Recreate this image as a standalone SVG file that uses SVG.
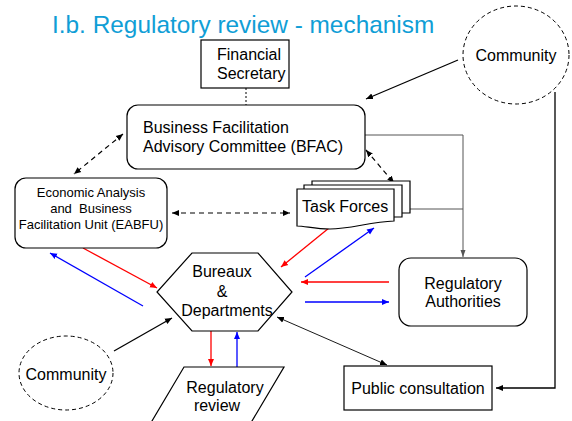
<svg xmlns="http://www.w3.org/2000/svg" width="572" height="421" viewBox="0 0 572 421">
<style>
text{font-family:"Liberation Sans",Arial,sans-serif;fill:#000}
.t16{font-size:16px}
.t13{font-size:13px}
.box{fill:#fff;stroke:#000;stroke-width:1.2}
.dash{fill:#fff;stroke:#000;stroke-width:1;stroke-dasharray:4,3}
.red{stroke:#f00;stroke-width:1.3;fill:none}
.blue{stroke:#00f;stroke-width:1.3;fill:none}
.blk{stroke:#000;stroke-width:1.3;fill:none}
.thin{stroke:#000;stroke-width:0.9;fill:none}
.gray{stroke:#555;stroke-width:1;fill:none}
.dsh{stroke:#000;stroke-width:1.2;fill:none;stroke-dasharray:5,4}
</style>
<defs>
<marker id="aR" markerUnits="userSpaceOnUse" markerWidth="8" markerHeight="8" refX="7" refY="4" orient="auto-start-reverse"><path d="M0,1 L7,4 L0,7 z" fill="#f00"/></marker>
<marker id="aB" markerUnits="userSpaceOnUse" markerWidth="8" markerHeight="8" refX="7" refY="4" orient="auto-start-reverse"><path d="M0,1 L7,4 L0,7 z" fill="#00f"/></marker>
<marker id="aK" markerUnits="userSpaceOnUse" markerWidth="8" markerHeight="8" refX="7" refY="4" orient="auto-start-reverse"><path d="M0,1 L7,4 L0,7 z" fill="#000"/></marker>
<marker id="aG" markerUnits="userSpaceOnUse" markerWidth="8" markerHeight="8" refX="7" refY="4" orient="auto-start-reverse"><path d="M0,1.5 L7,4 L0,6.5 z" fill="#555"/></marker>
</defs>
<rect width="572" height="421" fill="#fff"/>
<text x="52" y="33" style="font-size:24.4px;fill:#109ed6">I.b. Regulatory review - mechanism</text>

<g id="connectors">
<line x1="246" y1="88" x2="246" y2="105" stroke="#000" stroke-width="1" stroke-dasharray="2,2"/>
<line class="blk" x1="458" y1="60" x2="366" y2="99" marker-end="url(#aK)"/>
<polyline class="blk" points="555,92 555,388 496,388" marker-end="url(#aK)"/>
<polyline class="gray" points="365,135 463,135 463,257" marker-end="url(#aG)"/>
<line class="gray" x1="409" y1="209" x2="463" y2="209"/>
<line class="dsh" x1="123" y1="134" x2="74" y2="174" marker-start="url(#aK)" marker-end="url(#aK)"/>
<line class="dsh" x1="366" y1="150" x2="394" y2="183" marker-start="url(#aK)" marker-end="url(#aK)"/>
<line class="dsh" x1="172" y1="213" x2="290" y2="213" marker-start="url(#aK)" marker-end="url(#aK)"/>
<line class="red" x1="83" y1="248" x2="157" y2="288" marker-end="url(#aR)"/>
<line class="blue" x1="143" y1="306" x2="50" y2="253" marker-end="url(#aB)"/>
<line class="red" x1="329" y1="228" x2="281" y2="267" marker-end="url(#aR)"/>
<line class="blue" x1="305" y1="277" x2="374" y2="228" marker-end="url(#aB)"/>
<line class="red" x1="389" y1="282" x2="301" y2="282" marker-end="url(#aR)"/>
<line class="blue" x1="305" y1="302" x2="389" y2="302" marker-end="url(#aB)"/>
<line class="red" x1="211" y1="331" x2="211" y2="366" marker-end="url(#aR)"/>
<line class="blue" x1="237" y1="367" x2="237" y2="332" marker-end="url(#aB)"/>
<line class="blk" x1="114" y1="351" x2="172" y2="318" marker-end="url(#aK)"/>
<line class="thin" x1="387" y1="365" x2="277" y2="317" marker-start="url(#aK)" marker-end="url(#aK)"/>
</g>

<g id="financial-secretary">
<rect class="box" x="201" y="40" width="88" height="48"/>
<text class="t16" x="217" y="60">Financial</text>
<text class="t16" x="217" y="79">Secretary</text>
</g>

<g id="community-top">
<ellipse class="dash" cx="516" cy="55" rx="53" ry="49"/>
<text class="t16" x="516" y="61" text-anchor="middle">Community</text>
</g>

<g id="bfac">
<rect class="box" x="127" y="105" width="238" height="64" rx="11" stroke="#444"/>
<text class="t16" x="143" y="133">Business Facilitation</text>
<text class="t16" x="143" y="152">Advisory Committee (BFAC)</text>
</g>

<g id="eabfu">
<rect class="box" x="15" y="178" width="152" height="70" rx="11"/>
<text class="t13" x="91" y="197" text-anchor="middle">Economic Analysis</text>
<text class="t13" x="91" y="213" text-anchor="middle" xml:space="preserve">and  Business</text>
<text class="t13" x="91" y="229" text-anchor="middle">Facilitation Unit (EABFU)</text>
</g>

<g id="task-forces">
<path class="box" d="M312,213 V181 H410 V213 H402"/>
<path class="box" d="M304,217 V185 H402 V217 H394"/>
<path class="box" d="M297,226 V189 H394 V221 C370,222 350,229 330,229 C315,229 305,226 297,226 Z"/>
<text class="t16" x="302" y="212">Task Forces</text>
</g>

<g id="regulatory-authorities">
<rect class="box" x="399" y="258" width="128" height="68" rx="12"/>
<text class="t16" x="463" y="289" text-anchor="middle">Regulatory</text>
<text class="t16" x="463" y="307" text-anchor="middle">Authorities</text>
</g>

<g id="bureaux">
<polygon class="box" points="192,253 258,253 292,292 258,331 192,331 157,292"/>
<text class="t16" x="222" y="277" text-anchor="middle">Bureaux</text>
<text class="t16" x="222" y="297" text-anchor="middle">&amp;</text>
<text class="t16" x="227" y="316" text-anchor="middle">Departments</text>
</g>

<g id="regulatory-review">
<polygon class="box" points="184,367 284,367 249,426 149,426"/>
<text class="t16" x="225" y="393" text-anchor="middle">Regulatory</text>
<text class="t16" x="217" y="411" text-anchor="middle">review</text>
</g>

<g id="community-bottom">
<ellipse class="dash" cx="66" cy="373" rx="47" ry="37"/>
<text class="t16" x="66" y="380" text-anchor="middle">Community</text>
</g>

<g id="public-consultation">
<rect class="box" x="344" y="366" width="148" height="44"/>
<text class="t16" x="418" y="394" text-anchor="middle">Public consultation</text>
</g>
</svg>
